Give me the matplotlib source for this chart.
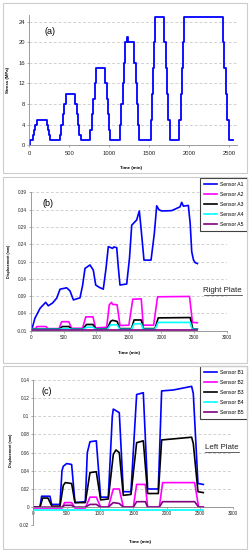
import matplotlib
matplotlib.use("Agg")
import matplotlib.pyplot as plt
from matplotlib.patches import Rectangle
from matplotlib.lines import Line2D

plt.rcParams['font.family'] = ['Liberation Sans', 'DejaVu Sans']

# ---------------- data ----------------
# (a) stress history (step data)
stress_time = [0, 10, 45, 60, 75, 95, 215, 230, 245, 262,
               385, 400, 420, 435, 455, 570, 590, 605, 620, 640,
               760, 780, 800, 815, 832, 950, 965, 980, 995, 1012,
               1135, 1150, 1165, 1180, 1198, 1222, 1234, 1312, 1328, 1343, 1358, 1375,
               1518, 1533, 1548, 1562, 1577, 1685, 1703, 1720, 1738, 1757,
               1873, 1890, 1905, 1920, 1937, 2418, 2438, 2455, 2470, 2490, 2540]
stress_mpa = [0, 1, 2, 3, 4, 5, 4, 3, 2, 1,
              2, 4, 6, 8, 10, 8, 6, 4, 2, 1,
              3, 6, 9, 12, 15, 12, 9, 6, 3, 1,
              4, 8, 12, 16, 20, 21, 20, 16, 12, 8, 4, 1,
              5, 10, 15, 20, 25, 20, 15, 10, 5, 1,
              5, 10, 15, 20, 25, 20, 15, 10, 5, 1, 1]

# (b) right plate sensors
A1_t = [10, 60, 140, 225, 265, 330, 394, 445, 547, 598,
        650, 700, 751, 790, 828, 904, 955, 992, 1050, 1108,
        1150, 1185, 1250, 1270, 1314, 1340, 1364, 1467, 1510, 1544,
        1620, 1660, 1680, 1732, 1840, 1890, 1927, 1960, 2004, 2157,
        2285, 2310, 2336, 2412, 2440, 2464, 2490, 2515, 2550]
A1 = [-0.008, 0.026, 0.055, 0.072, 0.062, 0.070, 0.084, 0.110, 0.114, 0.105,
      0.079, 0.082, 0.085, 0.12, 0.170, 0.180, 0.165, 0.122, 0.115, 0.110,
      0.17, 0.233, 0.228, 0.232, 0.230, 0.17, 0.122, 0.125, 0.2, 0.295,
      0.310, 0.336, 0.30, 0.194, 0.194, 0.27, 0.351, 0.34, 0.336, 0.337,
      0.348, 0.361, 0.350, 0.352, 0.3, 0.218, 0.195, 0.187, 0.184]
A2_t = [0, 70, 90, 230, 260, 430, 470, 580, 620, 790,
        840, 950, 990, 1160, 1200, 1235, 1250, 1320, 1365, 1500,
        1560, 1690, 1720, 1880, 1940, 2430, 2475, 2550]
A2 = [-0.004, -0.004, 0.002, 0.002, -0.004, -0.004, 0.016, 0.016, -0.003, -0.003,
      0.030, 0.030, -0.002, 0.0, 0.065, 0.072, 0.066, 0.065, 0.005, 0.006,
      0.081, 0.082, 0.006, 0.006, 0.088, 0.089, 0.014, 0.013]
A3_t = [0, 440, 480, 580, 620, 800, 850, 950, 990, 1170,
        1220, 1250, 1320, 1360, 1540, 1580, 1690, 1720, 1900, 1950,
        2440, 2480, 2550]
A3 = [-0.005, -0.005, 0.002, 0.002, -0.005, -0.005, 0.008, 0.008, -0.005, -0.004,
      0.017, 0.020, 0.017, -0.004, -0.004, 0.021, 0.021, -0.004, -0.004, 0.027,
      0.028, -0.005, -0.005]
A4_t = [0, 440, 480, 580, 620, 800, 850, 950, 990, 1170, 1220, 1320, 1360,
        1540, 1580, 1690, 1720, 1900, 1950, 2440, 2470, 2550]
A4 = [-0.006, -0.006, -0.004, -0.004, -0.006, -0.006, 0.0, 0.0, -0.006, -0.006, 0.007, 0.007, -0.006,
      -0.006, 0.010, 0.010, -0.006, -0.006, 0.014, 0.014, -0.006, -0.006]
A5_t = [0, 2550]
A5 = [-0.007, -0.007]

# (c) left plate sensors
B1_t = [0, 100, 125, 250, 275, 400, 430, 450, 500, 575,
        625, 780, 810, 850, 945, 1010, 1125, 1185, 1200, 1290,
        1350, 1465, 1550, 1650, 1715, 1875, 1925, 2100, 2375, 2400,
        2470, 2550]
B1 = [0.0, 0.0, 0.012, 0.012, 0.003, 0.003, 0.040, 0.045, 0.048, 0.047,
      0.005, 0.006, 0.060, 0.072, 0.073, 0.011, 0.011, 0.100, 0.108, 0.104,
      0.017, 0.017, 0.124, 0.126, 0.020, 0.020, 0.128, 0.129, 0.133, 0.125,
      0.026, 0.025]
B2_t = [0, 430, 470, 575, 625, 780, 850, 945, 1010, 1125, 1200, 1290, 1350,
        1500, 1550, 1680, 1715, 1890, 1940, 2420, 2480, 2550]
B2 = [-0.001, -0.001, 0.005, 0.005, -0.001, -0.001, 0.011, 0.011, 0.0, 0.0, 0.020, 0.020, 0.0,
      0.0, 0.025, 0.025, 0.0, 0.0, 0.027, 0.027, 0.0, 0.0]
B3_t = [0, 100, 140, 220, 280, 400, 450, 480, 575, 625,
        780, 850, 945, 1010, 1125, 1200, 1240, 1290, 1350, 1465,
        1550, 1650, 1715, 1875, 1925, 2375, 2400, 2470, 2550]
B3 = [0.0, 0.0, 0.010, 0.010, 0.001, 0.001, 0.024, 0.027, 0.026, 0.005,
      0.005, 0.038, 0.039, 0.008, 0.009, 0.058, 0.063, 0.060, 0.013, 0.014,
      0.071, 0.073, 0.015, 0.015, 0.074, 0.077, 0.070, 0.017, 0.016]
B4_t = [0, 2550]
B4 = [-0.003, -0.003]
B5_t = [0, 430, 470, 575, 625, 780, 850, 945, 1010, 1125, 1200, 1290, 1350,
        1500, 1550, 1680, 1715, 1890, 1940, 2420, 2480, 2550]
B5 = [0.0, 0.0, 0.002, 0.002, 0.0, 0.0, 0.003, 0.003, 0.0, 0.0, 0.005, 0.004, 0.0,
      0.0, 0.006, 0.006, 0.0, 0.0, 0.006, 0.006, 0.0, 0.0]

labels_A = ['Sensor A1', 'Sensor A2', 'Sensor A3', 'Sensor A4', 'Sensor A5']
labels_B = ['Sensor B1', 'Sensor B2', 'Sensor B3', 'Sensor B4', 'Sensor B5']
colors = ['#0000ff', '#ff00ff', '#000000', '#00ffff', '#800080']

yticks_a = [0, 4, 8, 12, 16, 20, 24]
yticks_b = [-0.01, 0.04, 0.09, 0.14, 0.19, 0.24, 0.29, 0.34, 0.39]
yticks_c = [-0.02, 0, 0.02, 0.04, 0.06, 0.08, 0.1, 0.12, 0.14]
xticks_a = [0, 500, 1000, 1500, 2000, 2500]
xticks_bc = [0, 500, 1000, 1500, 2000, 2500, 3000]

# ---------------- layout ----------------
W, H = 249, 550
fig = plt.figure(figsize=(W / 100, H / 100), dpi=100)


def rect(l, t, r, b):
    return [l / W, 1 - b / H, (r - l) / W, (b - t) / H]


def fx(x):
    return x / W


def fy(y):
    return 1 - y / H


# panel frames
for (l, t, r, b) in [(3, 2.5, 246.5, 172.5), (3, 176.5, 246.5, 363), (3, 365.5, 246.5, 548.5)]:
    fig.add_artist(Rectangle((fx(l), fy(b)), (r - l) / W, (b - t) / H,
                             transform=fig.transFigure, fill=False,
                             edgecolor='#cccccc', lw=0.8))

grid_kw = dict(color='#bdbdbd', lw=0.5, linestyle=(0, (4, 3)))
spine_col = '#8c8c8c'


def style(ax, tickfs):
    for s in ['top', 'right']:
        ax.spines[s].set_visible(False)
    for s in ['left', 'bottom']:
        ax.spines[s].set_color(spine_col)
        ax.spines[s].set_linewidth(0.6)
    ax.tick_params(axis='both', length=1.6, width=0.5, color=spine_col,
                   labelsize=tickfs, pad=1.2, labelcolor='#222222')
    ax.yaxis.grid(True, **grid_kw)
    ax.set_axisbelow(True)


# ---- (a) ----
ax_a = fig.add_axes(rect(29.3, 15, 237.3, 145.3))
ax_a.plot(stress_time, stress_mpa, drawstyle='steps-post', color='#0000ff', lw=1.3)
ax_a.set_xlim(0, 2600)
ax_a.set_ylim(0, 25.3)
ax_a.set_xticks(xticks_a)
ax_a.set_yticks(yticks_a)
style(ax_a, 4.2)
ax_a.tick_params(axis='x', pad=2.5)
fig.text(fx(50), fy(32), '(a)', fontsize=6.5, ha='center', va='center')
fig.text(fx(131), fy(168), 'Time (min)', fontsize=3.2, fontweight='bold', ha='center', va='center')
fig.text(fx(8.3), fy(80), 'Stress (MPa)', fontsize=3.2, fontweight='bold', rotation=90,
         ha='center', va='center')

# ---- (b) ----
ax_b = fig.add_axes(rect(31, 192.3, 226.7, 330.7))
for t, v, c, lab in zip([A1_t, A2_t, A3_t, A4_t, A5_t], [A1, A2, A3, A4, A5], colors, labels_A):
    ax_b.plot(t, v, color=c, lw=1.2, label=lab)
ax_b.set_xlim(0, 3000)
ax_b.set_ylim(-0.01, 0.39)
ax_b.set_xticks(xticks_bc)
ax_b.set_yticks(yticks_b)
ax_b.set_yticklabels(['%.2f' % v for v in yticks_b])
style(ax_b, 3.3)
ax_b.legend(loc='upper left', bbox_to_anchor=(fx(200), fy(178)), bbox_transform=fig.transFigure,
            fontsize=3.6, frameon=True, fancybox=False, edgecolor='#404040', framealpha=1,
            handlelength=2.6, handletextpad=0.5, borderpad=0.8, labelspacing=1.0,
            borderaxespad=0).get_frame().set_linewidth(0.8)
fig.text(fx(47.7), fy(203), '(b)', fontsize=6.5, ha='center', va='center')
fig.text(fx(129), fy(353.3), 'Time (min)', fontsize=3.2, fontweight='bold', ha='center', va='center')
fig.text(fx(8.8), fy(261), 'Displacement (mm)', fontsize=2.6, fontweight='bold', rotation=90,
         ha='center', va='center')
fig.text(fx(222.7), fy(291), 'Right Plate', fontsize=5.7, ha='center', va='center', color='#222222')
fig.add_artist(Line2D([fx(203.5), fx(242)], [fy(295), fy(295)], transform=fig.transFigure,
                      color='#222222', lw=0.5))

# ---- (c) ----
ax_c = fig.add_axes(rect(33.3, 380, 233.3, 525.3))
for t, v, c, lab in zip([B1_t, B2_t, B3_t, B4_t, B5_t], [B1, B2, B3, B4, B5], colors, labels_B):
    ax_c.plot(t, v, color=c, lw=1.2, label=lab)
ax_c.set_xlim(0, 3000)
ax_c.set_ylim(-0.02, 0.14)
ax_c.set_xticks(xticks_bc)
ax_c.set_yticks(yticks_c)
ax_c.set_yticklabels(['-0.02', '0', '0.02', '0.04', '0.06', '0.08', '0.1', '0.12', '0.14'])
style(ax_c, 3.3)
ax_c.spines['bottom'].set_position(('data', 0))
ax_c.legend(loc='upper left', bbox_to_anchor=(fx(200), fy(365.5)), bbox_transform=fig.transFigure,
            fontsize=3.6, frameon=True, fancybox=False, edgecolor='#404040', framealpha=1,
            handlelength=2.6, handletextpad=0.5, borderpad=0.8, labelspacing=1.0,
            borderaxespad=0).get_frame().set_linewidth(0.8)
fig.text(fx(46.7), fy(391.7), '(c)', fontsize=6.5, ha='center', va='center')
fig.text(fx(140), fy(541.7), 'Time (min)', fontsize=3.2, fontweight='bold', ha='center', va='center')
fig.text(fx(11), fy(450), 'Displacement (mm)', fontsize=2.6, fontweight='bold', rotation=90,
         ha='center', va='center')
fig.text(fx(221.7), fy(447.7), 'Left Plate', fontsize=5.7, ha='center', va='center', color='#222222')
fig.add_artist(Line2D([fx(205), fx(238.5)], [fy(451.7), fy(451.7)], transform=fig.transFigure,
                      color='#222222', lw=0.5))

fig.savefig('out.png', dpi=100)
